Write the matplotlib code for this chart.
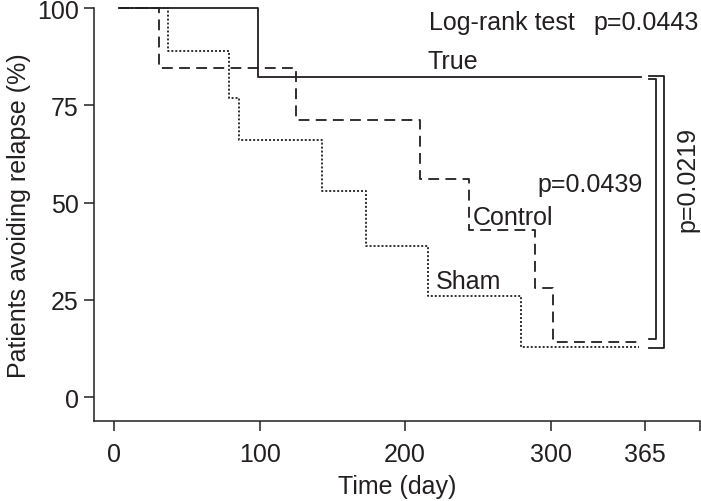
import numpy as np
import matplotlib.pyplot as plt

plt.rcParams['font.family'] = ['Liberation Sans', 'DejaVu Sans']

# Kaplan-Meier style step data (day, % avoiding relapse)
true_days = [3, 99, 362]
true_surv = [100, 82.3, 82.3]

control_days = [3, 31, 125, 210, 244, 289, 301.5, 362]
control_surv = [100, 84.6, 71.2, 56.0, 43.0, 28.0, 14.2, 14.2]

sham_days = [3, 37, 79, 86, 143, 173, 216, 280, 361]
sham_surv = [100, 89.0, 76.8, 66.0, 52.9, 38.8, 26.0, 12.8, 12.8]

xticks = [0, 100, 200, 300, 365]
yticks = [0, 25, 50, 75, 100]

ink = '#231f20'

fig = plt.figure(figsize=(7.01, 5.02), dpi=100)
ax = fig.add_axes([0.134, 0.159, 0.865, 0.823])

ax.plot(true_days, true_surv, drawstyle='steps-post', color=ink, lw=1.3,
        linestyle='-', clip_on=False)
ax.plot(control_days, control_surv, drawstyle='steps-post', color=ink, lw=1.3,
        linestyle=(0, (6, 3.5)), clip_on=False)
ax.plot(sham_days, sham_surv, drawstyle='steps-post', color=ink, lw=1.3,
        linestyle=(0, (1.1, 1.1)), clip_on=False)

# comparison brackets on the right
ax.plot([367.4, 372.3, 372.3, 367.4], [true_surv[-1] - 0.5, true_surv[-1] - 0.5,
        control_surv[-1] + 0.7, control_surv[-1] + 0.7], color=ink, lw=1.3, clip_on=False)
ax.plot([367.4, 377.8, 377.8, 367.4], [true_surv[-1] + 0.3, true_surv[-1] + 0.3,
        sham_surv[-1] - 0.2, sham_surv[-1] - 0.2], color=ink, lw=1.3, clip_on=False)

fs = 18
ax.text(216.7, 96.5, 'Log-rank test', fontsize=fs, color=ink, ha='left', va='center')
ax.text(401.8, 96.5, 'p=0.0443', fontsize=fs, color=ink, ha='right', va='center')
ax.text(215.3, 86.3, 'True', fontsize=fs, color=ink, ha='left', va='center')
ax.text(291, 54.8, 'p=0.0439', fontsize=fs, color=ink, ha='left', va='center')
ax.text(246.3, 46.3, 'Control', fontsize=fs, color=ink, ha='left', va='center')
ax.text(220.8, 29.8, 'Sham', fontsize=fs, color=ink, ha='left', va='center')
ax.text(394.3, 56.1, 'p=0.0219', fontsize=fs, color=ink, ha='center', va='center',
        rotation=90)

ax.set_xlim(-14, 403)
ax.set_ylim(-6.2, 100)
ax.set_xticks(xticks + [403])
ax.set_xticklabels([str(t) for t in xticks] + [''])
ax.set_yticks(yticks)
ax.tick_params(axis='both', labelsize=fs, colors=ink, length=7, width=1.1)
ax.tick_params(axis='x', pad=8)
ax.tick_params(axis='y', pad=4)

for side in ['top', 'right']:
    ax.spines[side].set_visible(False)
for side in ['left', 'bottom']:
    ax.spines[side].set_color(ink)
    ax.spines[side].set_linewidth(1.1)

ax.set_xlabel('Time (day)', fontsize=fs, color=ink, labelpad=6)
ax.set_ylabel('Patients avoiding relapse (%)', fontsize=fs, color=ink, labelpad=4)

fig.savefig('out.png', dpi=100)
